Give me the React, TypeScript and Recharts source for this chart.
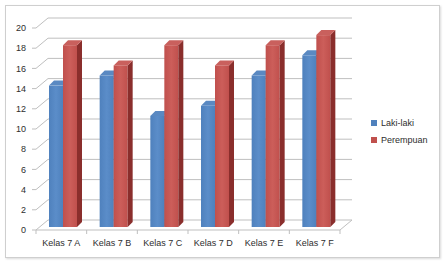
import React from 'react';
import { BarChart, Bar, XAxis, YAxis, CartesianGrid, Legend } from 'recharts';

const categories = ['Kelas 7 A', 'Kelas 7 B', 'Kelas 7 C', 'Kelas 7 D', 'Kelas 7 E', 'Kelas 7 F'];
const lakiLaki = [14, 15, 11, 12, 15, 17];
const perempuan = [18, 16, 18, 16, 18, 19];
const yTicks = [0, 2, 4, 6, 8, 10, 12, 14, 16, 18, 20];
const seriesNames = ['Laki-laki', 'Perempuan'];

const data = categories.map((name, i) => ({ name, laki: lakiLaki[i], perempuan: perempuan[i] }));

const W = 446;
const H = 264;
const M = { top: 28, right: 106, bottom: 0, left: 0 };
const YAXIS_W = 36;
const XAXIS_H = 34;
const PLOT_W = W - M.left - M.right - YAXIS_W;
const PLOT_BOTTOM = H - M.bottom - XAXIS_H;
const BAND = PLOT_W / categories.length;
const DX = 12;
const DY = 10;
const DEPTH = 5;
const SHIFT_X = 2;
const SHIFT_Y = 3;
const GRID = '#bfbfbf';
const TEXT = '#2e2e2e';
const FONT = '"Liberation Sans", Arial, sans-serif';

const COLORS = {
  blue: { front: '#4f81bd', light: '#5b8dc9', side: '#36598a', top: '#5a89c2' },
  red: { front: '#c0504d', light: '#cc5e5a', side: '#8a2e2c', top: '#c9605d' },
};

const make3D = (key: 'blue' | 'red') => (props: any) => {
  const { x, y, width, height } = props;
  if (height == null || width == null) return <g />;
  const c = COLORS[key];
  const X = x + SHIFT_X;
  const Y = y - SHIFT_Y;
  const d = DEPTH;
  return (
    <g>
      <rect x={X} y={Y} width={width} height={height} fill={`url(#grad-${key})`} />
      <polygon
        points={`${X + width},${Y} ${X + width + d},${Y - d} ${X + width + d},${Y + height - d} ${X + width},${Y + height}`}
        fill={c.side}
      />
      <polygon points={`${X},${Y} ${X + d},${Y - d} ${X + width + d},${Y - d} ${X + width},${Y}`} fill={c.top} />
    </g>
  );
};

const gridLine = (p: any) => {
  const { x1, y1, x2 } = p;
  const isFloor = Math.abs(y1 - PLOT_BOTTOM) < 1;
  return (
    <g key={p.key}>
      <polyline
        points={`${x1},${y1} ${x1 + DX},${y1 - DY} ${x2 + DX},${y1 - DY}`}
        fill="none"
        stroke={GRID}
        strokeWidth={1}
      />
      {isFloor && <line x1={x2} y1={y1} x2={x2 + DX} y2={y1 - DY} stroke={GRID} strokeWidth={1} />}
    </g>
  );
};

const XTick = (props: any) => {
  const { x, y, payload, index } = props;
  const left = x - BAND / 2;
  const right = x + BAND / 2;
  return (
    <g>
      <line x1={left} y1={y} x2={left} y2={y + 4} stroke={GRID} />
      {index === categories.length - 1 && <line x1={right} y1={y} x2={right} y2={y + 4} stroke={GRID} />}
      <text x={x} y={y + 16} textAnchor="middle" fontSize={9} fontFamily={FONT} fill={TEXT}>
        {payload.value}
      </text>
    </g>
  );
};

const renderLegend = () => {
  const cols = [COLORS.blue.front, COLORS.red.front];
  return (
    <div style={{ fontFamily: FONT, fontSize: 9, color: TEXT }}>
      {seriesNames.map((n, i) => (
        <div key={n} style={{ display: 'flex', alignItems: 'center', height: 17.5 }}>
          <span style={{ display: 'inline-block', width: 6, height: 6, background: cols[i], marginRight: 4 }} />
          <span>{n}</span>
        </div>
      ))}
    </div>
  );
};

export default function App() {
  return (
    <div style={{ position: 'absolute', left: 0, top: 0, width: W, height: H, background: '#fff' }}>
      <div
        style={{
          position: 'absolute',
          left: 5,
          top: 5,
          width: 433,
          height: 251,
          border: '1px solid #cfcfcf',
          boxShadow: '1px 1px 2px rgba(0,0,0,0.15)',
        }}
      />
      <BarChart width={W} height={H} data={data} margin={M} barGap={0} barSize={14}>
        <defs>
          <linearGradient id="grad-blue" x1="0" y1="0" x2="1" y2="0">
            <stop offset="0%" stopColor={COLORS.blue.front} />
            <stop offset="50%" stopColor={COLORS.blue.light} />
            <stop offset="100%" stopColor={COLORS.blue.front} />
          </linearGradient>
          <linearGradient id="grad-red" x1="0" y1="0" x2="1" y2="0">
            <stop offset="0%" stopColor={COLORS.red.front} />
            <stop offset="50%" stopColor={COLORS.red.light} />
            <stop offset="100%" stopColor={COLORS.red.front} />
          </linearGradient>
        </defs>
        <CartesianGrid vertical={false} horizontal={gridLine} />
        <XAxis
          dataKey="name"
          interval={0}
          height={XAXIS_H}
          axisLine={{ stroke: GRID }}
          tickLine={false}
          tickSize={0}
          tickMargin={0}
          tick={<XTick />}
        />
        <YAxis
          domain={[0, 20]}
          ticks={yTicks}
          width={YAXIS_W}
          axisLine={false}
          tickLine={{ stroke: GRID }}
          tickSize={4}
          tickMargin={6}
          tick={{ fontSize: 9, fontFamily: FONT, fill: TEXT }}
          interval={0}
        />
        <Legend
          layout="vertical"
          align="center"
          verticalAlign="middle"
          wrapperStyle={{ left: 371, top: 114, width: 70, height: 36 }}
          content={renderLegend}
        />
        <Bar dataKey="laki" name={seriesNames[0]} fill={COLORS.blue.front} shape={make3D('blue')} isAnimationActive={false} />
        <Bar dataKey="perempuan" name={seriesNames[1]} fill={COLORS.red.front} shape={make3D('red')} isAnimationActive={false} />
      </BarChart>
    </div>
  );
}
